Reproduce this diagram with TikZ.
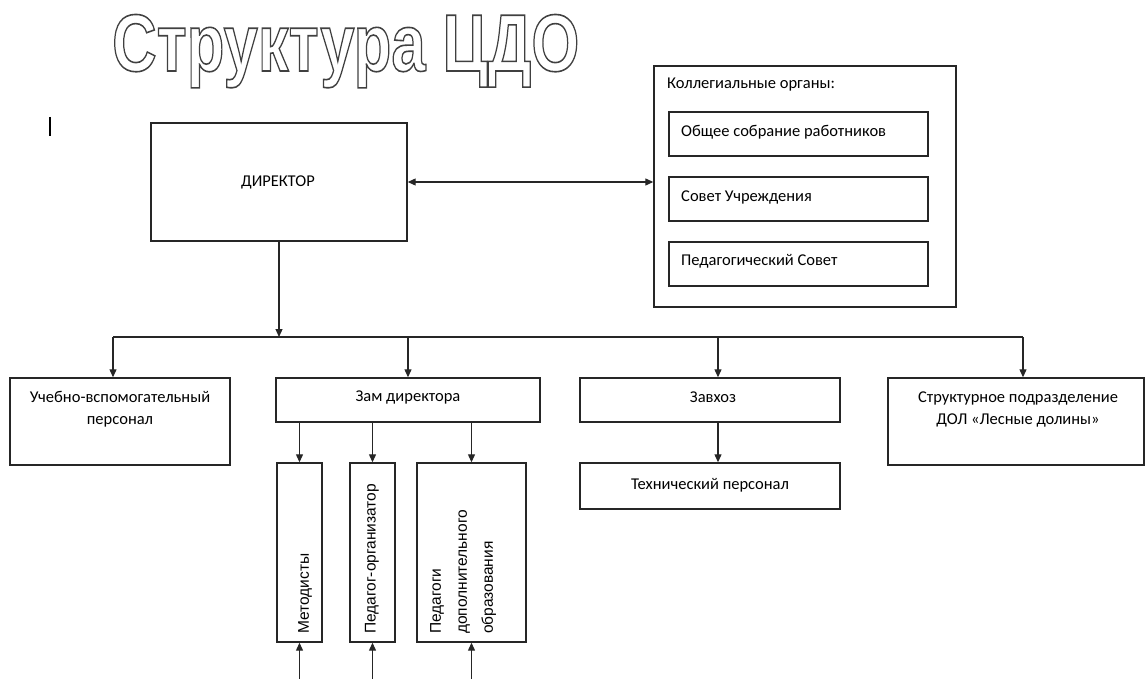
\documentclass[tikz,border=0pt]{standalone}
\usepackage{fontspec}
\setmainfont{Carlito}
\newfontfamily\arialf{Liberation Sans}
\usetikzlibrary{arrows.meta,calc}
\tikzset{
  box/.style={draw=black!85, line width=1.4pt, inner sep=0pt},
  arr/.style={line width=1.2pt, draw=black!85, -{Triangle[length=8pt,width=7pt]}},
  darr/.style={line width=1.2pt, draw=black!85, {Triangle[length=8pt,width=7pt]}-{Triangle[length=8pt,width=7pt]}},
  lbl/.style={inner sep=0pt, font=\fontsize{16.5}{22}\selectfont, align=center},
  vlbl/.style={inner sep=0pt, font=\arialf\fontsize{15.5}{26}\selectfont, rotate=90, align=left},
  titlef/.style={inner sep=0pt, anchor=base west, font=\arialf\bfseries\fontsize{81}{81}\selectfont},
}
\newcommand{\outlinetext}[1]{\special{pdf:literal direct 0.25 0.25 0.25 RG 1.6 w 1 Tr}#1\special{pdf:literal direct 0 Tr}}
\begin{document}
\begin{tikzpicture}[x=1pt,y=-1pt]
\useasboundingbox (0,0) rectangle (1145,679);
% title (outlined)
\coordinate (title) at (112,71);
\node[titlef] (tmain) at (title) {\scalebox{0.76}[1]{\outlinetext{Структура ЦДО}}};
% stray mark
\coordinate (m1) at (50,117);
\coordinate (m2) at (50,136);
\draw[line width=2pt] (m1) -- (m2);
% boxes
\node[box, minimum width=256pt, minimum height=118pt] (dir) at (279,182) {};
\node[lbl] (dirt) at (278,182) {ДИРЕКТОР};
\node[box, minimum width=302pt, minimum height=241pt] (koll) at (805,186.5) {};
\node[lbl, anchor=west] (kollt) at (667,85) {Коллегиальные органы:};
\node[box, minimum width=259pt, minimum height=44pt] (in1) at (798.5,134) {};
\node[box, minimum width=259pt, minimum height=44pt] (in2) at (798.5,199) {};
\node[box, minimum width=259pt, minimum height=44pt] (in3) at (798.5,264) {};
\node[lbl, anchor=west] (in1t) at (681,132) {Общее собрание работников};
\node[lbl, anchor=west] (in2t) at (681,197) {Совет Учреждения};
\node[lbl, anchor=west] (in3t) at (681,261) {Педагогический Совет};
\node[box, minimum width=220pt, minimum height=87pt] (uch) at (120,421.5) {};
\node[lbl] (ucht) at (120,409) {Учебно-вспомогательный\\персонал};
\node[box, minimum width=264pt, minimum height=44pt] (zam) at (408,400) {};
\node[lbl] (zamt) at (408,398) {Зам директора};
\node[box, minimum width=260pt, minimum height=44pt] (zav) at (710,400) {};
\node[lbl] (zavt) at (713,397) {Завхоз};
\node[box, minimum width=256pt, minimum height=87pt] (str) at (1016,421.5) {};
\node[lbl] (strt) at (1018,409) {Структурное подразделение\\ДОЛ «Лесные долины»};
\node[box, minimum width=260pt, minimum height=46pt] (tech) at (710,486) {};
\node[lbl] (techt) at (710,485) {Технический персонал};
\node[box, minimum width=45pt, minimum height=179pt] (met) at (299.5,552.5) {};
\node[box, minimum width=45pt, minimum height=179pt] (porg) at (372.5,552.5) {};
\node[box, minimum width=109pt, minimum height=179pt] (pdop) at (471.5,552.5) {};
\node[vlbl, anchor=west] (mett) at (305,634) {Методисты};
\node[vlbl, anchor=west] (porgt) at (372,634) {Педагог-организатор};
\node[vlbl, anchor=north west] (pdopt) at (430,634) {Педагоги\\дополнительного\\образования};
% connectors
\coordinate (busL) at (113,337);
\coordinate (busR) at (1023,337);
\coordinate (b3) at (718,337);
\coordinate (bot) at (0,679);
\draw[line width=1.2pt, draw=black!85] (busL) -- (busR);
\draw[arr] (dir.south) -- (dir.south |- busL);
\draw[arr] (busL) -- (busL |- uch.north);
\draw[arr] (zam.north |- busL) -- (zam.north);
\draw[arr] (b3) -- (b3 |- zav.north);
\draw[arr] (busR) -- (busR |- str.north);
\draw[darr] (dir.east) -- (koll.west |- dir.east);
\draw[arr] (b3 |- zav.south) -- (b3 |- tech.north);
\draw[arr] (met.north |- zam.south) -- (met.north);
\draw[arr] (porg.north |- zam.south) -- (porg.north);
\draw[arr] (pdop.north |- zam.south) -- (pdop.north);
\draw[arr] (met.south |- bot) -- (met.south);
\draw[arr] (porg.south |- bot) -- (porg.south);
\draw[arr] (pdop.south |- bot) -- (pdop.south);
\end{tikzpicture}
\end{document}
